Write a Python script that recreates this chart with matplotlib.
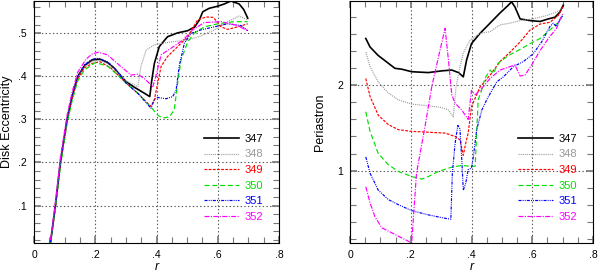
import matplotlib
matplotlib.use('Agg')
import matplotlib.pyplot as plt
from matplotlib.ticker import MultipleLocator, FuncFormatter

plt.rcParams['font.family'] = ['Liberation Sans', 'DejaVu Sans']
plt.rcParams['lines.scale_dashes'] = False

# ---- Disk eccentricity vs r (left panel) ----
r_e347 = [0.054, 0.07, 0.086, 0.108, 0.125, 0.143, 0.165, 0.19, 0.215, 0.24, 0.262, 0.30, 0.327, 0.36, 0.378,
          0.381, 0.384, 0.393, 0.409, 0.436, 0.469, 0.502, 0.525, 0.54, 0.551, 0.572, 0.60, 0.621, 0.643, 0.67, 0.685, 0.698]
e347 = [0.015, 0.10, 0.20, 0.30, 0.355, 0.40, 0.425, 0.438, 0.44, 0.432, 0.419, 0.388, 0.375, 0.361, 0.353,
        0.37, 0.388, 0.430, 0.469, 0.492, 0.501, 0.506, 0.515, 0.531, 0.55, 0.558, 0.563, 0.568, 0.575, 0.568, 0.555, 0.535]

r_e348 = [0.054, 0.07, 0.086, 0.108, 0.125, 0.143, 0.165, 0.19, 0.215, 0.24, 0.262, 0.30, 0.339, 0.349, 0.366,
          0.393, 0.447, 0.502, 0.545, 0.589, 0.632, 0.67, 0.698]
e348 = [0.015, 0.10, 0.20, 0.30, 0.355, 0.40, 0.423, 0.435, 0.437, 0.43, 0.417, 0.39, 0.376, 0.422, 0.461,
        0.473, 0.48, 0.484, 0.494, 0.508, 0.527, 0.54, 0.531]

r_e349 = [0.054, 0.07, 0.086, 0.108, 0.125, 0.143, 0.165, 0.19, 0.215, 0.25, 0.30, 0.34, 0.382, 0.393, 0.404,
          0.415, 0.436, 0.469, 0.502, 0.534, 0.562, 0.585, 0.60, 0.611, 0.632, 0.665, 0.698]
e349 = [0.013, 0.095, 0.195, 0.295, 0.35, 0.395, 0.42, 0.43, 0.434, 0.42, 0.385, 0.36, 0.33, 0.346, 0.384,
        0.423, 0.446, 0.469, 0.492, 0.531, 0.538, 0.537, 0.525, 0.515, 0.509, 0.515, 0.522]

r_e350 = [0.054, 0.07, 0.086, 0.108, 0.125, 0.143, 0.165, 0.20, 0.24, 0.27, 0.30, 0.34, 0.38, 0.404, 0.42,
          0.442, 0.458, 0.469, 0.48, 0.502, 0.523, 0.556, 0.60, 0.654, 0.698]
e350 = [0.013, 0.095, 0.19, 0.29, 0.345, 0.39, 0.415, 0.432, 0.424, 0.405, 0.385, 0.36, 0.33, 0.31, 0.303,
        0.306, 0.322, 0.384, 0.438, 0.48, 0.50, 0.515, 0.522, 0.527, 0.527]

r_e351 = [0.054, 0.07, 0.086, 0.108, 0.125, 0.143, 0.165, 0.19, 0.21, 0.24, 0.262, 0.30, 0.34, 0.382, 0.393,
          0.404, 0.431, 0.453, 0.464, 0.474, 0.491, 0.513, 0.545, 0.589, 0.632, 0.676, 0.698]
e351 = [0.015, 0.10, 0.20, 0.30, 0.355, 0.40, 0.427, 0.44, 0.442, 0.434, 0.42, 0.385, 0.36, 0.326, 0.346,
        0.351, 0.348, 0.353, 0.368, 0.423, 0.477, 0.50, 0.508, 0.515, 0.522, 0.518, 0.506]

r_e352 = [0.054, 0.07, 0.086, 0.108, 0.125, 0.143, 0.17, 0.19, 0.21, 0.24, 0.284, 0.317, 0.339, 0.36, 0.388,
          0.399, 0.415, 0.447, 0.486, 0.518, 0.556, 0.611, 0.66, 0.698]
e352 = [0.02, 0.11, 0.21, 0.31, 0.365, 0.41, 0.44, 0.452, 0.456, 0.45, 0.4225, 0.403, 0.405, 0.395, 0.376,
        0.403, 0.45, 0.465, 0.484, 0.508, 0.525, 0.527, 0.519, 0.506]

# ---- Periastron vs r (right panel) ----
r_p347 = [0.052, 0.066, 0.093, 0.126, 0.148, 0.17, 0.203, 0.258, 0.302, 0.335, 0.357, 0.373, 0.384, 0.40,
          0.428, 0.461, 0.494, 0.521, 0.532, 0.543, 0.56, 0.593, 0.626, 0.653, 0.675, 0.691, 0.702]
p347 = [2.55, 2.45, 2.35, 2.26, 2.20, 2.19, 2.16, 2.15, 2.17, 2.18, 2.15, 2.10, 2.30, 2.49,
        2.61, 2.73, 2.85, 2.94, 2.98, 2.92, 2.78, 2.76, 2.75, 2.78, 2.80, 2.86, 2.94]

r_p348 = [0.052, 0.066, 0.093, 0.126, 0.159, 0.203, 0.258, 0.302, 0.324, 0.34, 0.349, 0.362, 0.373, 0.395,
          0.428, 0.461, 0.494, 0.527, 0.56, 0.603, 0.648, 0.68, 0.697]
p348 = [2.39, 2.22, 2.04, 1.91, 1.83, 1.78, 1.76, 1.74, 1.71, 1.63, 1.98, 2.22, 2.38, 2.53,
        2.61, 2.63, 2.71, 2.73, 2.76, 2.78, 2.82, 2.86, 2.90]

r_p349 = [0.052, 0.066, 0.093, 0.126, 0.159, 0.203, 0.258, 0.313, 0.346, 0.362, 0.373, 0.381, 0.389, 0.40,
          0.428, 0.461, 0.494, 0.527, 0.56, 0.593, 0.626, 0.658, 0.686, 0.702]
p349 = [2.08, 1.87, 1.65, 1.54, 1.48, 1.46, 1.45, 1.44, 1.40, 1.36, 1.18, 1.32, 1.44, 1.75,
        1.98, 2.12, 2.28, 2.39, 2.51, 2.65, 2.72, 2.74, 2.82, 2.94]

r_p350 = [0.052, 0.066, 0.093, 0.126, 0.159, 0.203, 0.236, 0.258, 0.291, 0.335, 0.368, 0.40, 0.412, 0.417,
          0.422, 0.434, 0.444, 0.461, 0.472, 0.488, 0.521, 0.554, 0.593, 0.626, 0.658, 0.686, 0.702]
p350 = [1.69, 1.46, 1.20, 1.07, 0.99, 0.93, 0.90, 0.93, 0.99, 1.04, 1.06, 1.05, 1.05, 1.44,
        1.83, 1.95, 2.08, 2.18, 2.14, 2.26, 2.35, 2.41, 2.49, 2.55, 2.65, 2.74, 2.84]

r_p351 = [0.052, 0.066, 0.093, 0.126, 0.159, 0.203, 0.258, 0.313, 0.332, 0.337, 0.346, 0.355, 0.362, 0.368,
          0.373, 0.381, 0.389, 0.40, 0.406, 0.417, 0.434, 0.45, 0.467, 0.483, 0.505, 0.538, 0.571, 0.603,
          0.631, 0.658, 0.669, 0.68, 0.691, 0.702]
p351 = [1.16, 0.97, 0.77, 0.66, 0.60, 0.53, 0.48, 0.44, 0.43, 0.97, 1.32, 1.53, 1.49, 1.13,
        0.77, 0.85, 1.01, 1.03, 1.16, 1.48, 1.71, 1.83, 1.94, 2.04, 2.10, 2.22, 2.28, 2.37,
        2.51, 2.69, 2.73, 2.69, 2.77, 2.82]

r_p352 = [0.052, 0.066, 0.082, 0.104, 0.137, 0.17, 0.198, 0.203, 0.209, 0.219, 0.247, 0.269, 0.291, 0.313,
          0.324, 0.335, 0.346, 0.368, 0.389, 0.40, 0.412, 0.428, 0.461, 0.494, 0.527, 0.543, 0.56, 0.576,
          0.598, 0.626, 0.653, 0.68, 0.692, 0.702]
p352 = [0.81, 0.62, 0.46, 0.33, 0.27, 0.21, 0.16, 0.15, 0.46, 0.97, 1.52, 1.98, 2.33, 2.67,
        2.30, 1.89, 1.79, 1.71, 1.60, 1.94, 1.89, 1.94, 2.08, 2.18, 2.22, 2.24, 2.11, 2.12,
        2.24, 2.41, 2.55, 2.67, 2.78, 2.84]

labels = ['347', '348', '349', '350', '351', '352']
colors = ['black', '#999999', '#ff0000', '#00e000', '#0000ff', '#ff00ff']
styles = ['-', (0, (0.75, 0.75)), (0, (2, 1)), (0, (3.6, 2)),
          (0, (2.2, 0.8, 0.7, 0.8, 0.7, 0.8)), (0, (3.6, 1, 0.8, 1))]
widths = [1.2, 0.85, 0.85, 0.85, 0.85, 0.85]


def nozero(v, pos):
    s = '%g' % v
    if s.startswith('0.'):
        s = s[1:]
    return s


def style_axes(ax):
    ax.tick_params(which='both', direction='in', top=True, right=True, color='#777777',
                   labelsize=7.5, pad=5)
    ax.tick_params(which='major', length=5, width=1.2)
    ax.tick_params(which='minor', length=4, width=0.8)
    ax.grid(True, which='major', linestyle=':', color='0.35', linewidth=0.8)
    ax.xaxis.set_major_locator(MultipleLocator(0.2))
    ax.xaxis.set_minor_locator(MultipleLocator(0.05))
    ax.xaxis.set_major_formatter(FuncFormatter(nozero))
    ax.set_xlim(0, 0.8)
    ax.set_xlabel('r', fontstyle='italic', fontsize=9, labelpad=1)
    for sp in ax.spines.values():
        sp.set_linewidth(0.8)


def add_legend(ax):
    leg = ax.legend(loc='lower right', bbox_to_anchor=(0.952, 0.07), frameon=False, fontsize=8,
                    handlelength=3.2, labelspacing=0.5, handletextpad=0.45, borderaxespad=0)
    for txt, c in zip(leg.get_texts(), colors):
        txt.set_color(c)


fig = plt.figure(figsize=(5.98, 2.79), dpi=100)
ax1 = fig.add_axes([34 / 598, 36 / 279, 245 / 598, 242 / 279])
ax2 = fig.add_axes([350 / 598, 36 / 279, 243 / 598, 242 / 279])

ecc_r = [r_e347, r_e348, r_e349, r_e350, r_e351, r_e352]
ecc_v = [e347, e348, e349, e350, e351, e352]
for rr, vv, lab, c, ls, lw in zip(ecc_r, ecc_v, labels, colors, styles, widths):
    ax1.plot(rr, vv, color=c, linestyle=ls, linewidth=lw, label=lab)
style_axes(ax1)
ax1.set_ylim(0.013, 0.575)
ax1.yaxis.set_major_locator(MultipleLocator(0.1))
ax1.yaxis.set_minor_locator(MultipleLocator(0.02))
ax1.yaxis.set_major_formatter(FuncFormatter(nozero))
ax1.set_ylabel('Disk Eccentricity', fontsize=9, labelpad=4)
add_legend(ax1)

per_r = [r_p347, r_p348, r_p349, r_p350, r_p351, r_p352]
per_v = [p347, p348, p349, p350, p351, p352]
for rr, vv, lab, c, ls, lw in zip(per_r, per_v, labels, colors, styles, widths):
    ax2.plot(rr, vv, color=c, linestyle=ls, linewidth=lw, label=lab)
style_axes(ax2)
ax2.set_ylim(0.15, 2.99)
ax2.yaxis.set_major_locator(MultipleLocator(1))
ax2.yaxis.set_minor_locator(MultipleLocator(0.2))
ax2.set_ylabel('Periastron', fontsize=9, labelpad=8)
add_legend(ax2)

fig.savefig('out.png', dpi=100)
